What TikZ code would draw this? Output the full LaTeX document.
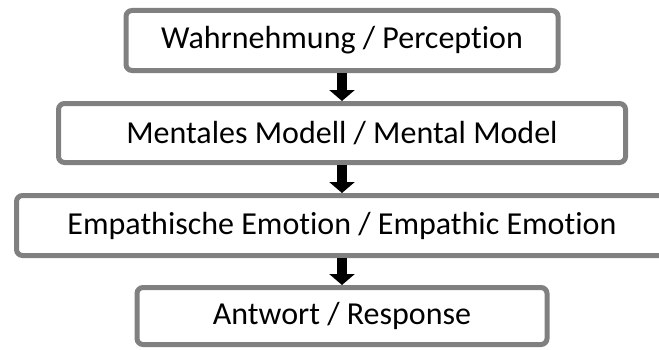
\documentclass[tikz,border=0pt]{standalone}
\usepackage{fontspec}
\setmainfont[Ligatures=NoCommon]{Carlito}
\usetikzlibrary{arrows.meta}
\begin{document}
\begin{tikzpicture}
		[x=1pt,y=1pt,
		box/.style={rectangle,draw=gray,line width=5pt,rounded corners=6pt,fill=white,font=\fontsize{32}{36}\selectfont},
		down/.style={line width=10pt,-{Triangle[width=25pt,length=11pt]}}]
		\clip (0,0) rectangle (659,349);
		\node[box,minimum width=432pt,minimum height=60pt,name=perc] at (342,308.5) {Wahrnehmung / Perception};
		\node[box,minimum width=567pt,minimum height=59pt,name=model] at (342,216) {Mentales Modell / Mental Model};
		\node[box,minimum width=651pt,minimum height=60pt,name=emo] at (342,123.5) {Empathische Emotion / Empathic Emotion};
		\node[box,minimum width=410pt,minimum height=57pt,name=resp] at (342,33) {Antwort / Response};
		\draw[down] (perc.south)--(model.north);
		\draw[down] (model.south)--(emo.north);
		\draw[down] (emo.south)--(resp.north);
	\end{tikzpicture}
\end{document}
